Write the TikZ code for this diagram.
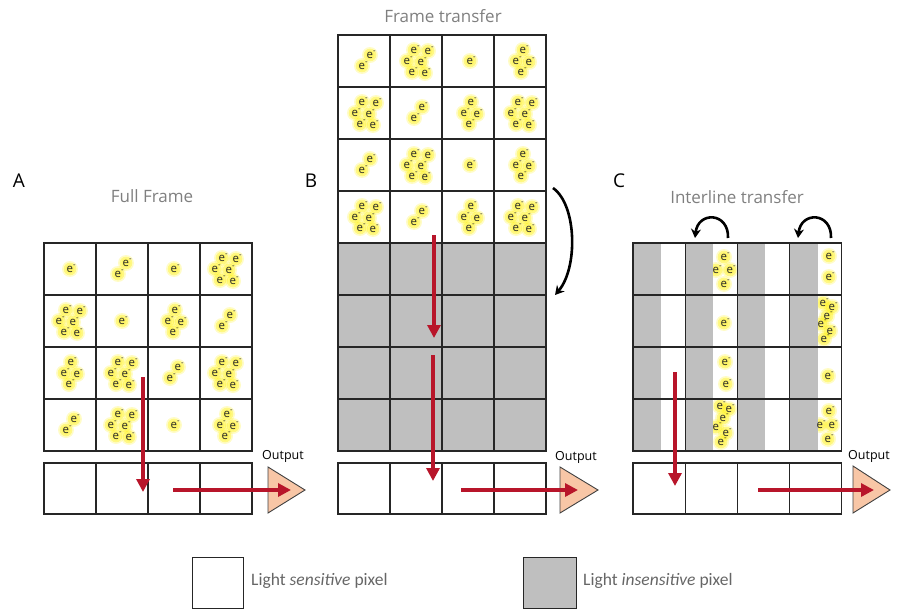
\documentclass[tikz,border=0pt]{standalone}
\usepackage{fontspec}
\setmainfont{Open Sans}
\newfontfamily\legfont{Carlito}
\usetikzlibrary{arrows.meta,positioning}
\definecolor{ccdred}{HTML}{B8152A}
\definecolor{maskgray}{HTML}{BFBFBF}
\definecolor{outfill}{HTML}{F8C6A6}
\definecolor{glowy}{HTML}{FFF000}
\definecolor{titlegray}{HTML}{7F7F7F}
\pgfdeclarelayer{glowlayer}
\pgfsetlayers{glowlayer,main}
\tikzset{
	pix/.style={draw=black!85,line width=1.1pt},
	mask/.style={pix,fill=maskgray},
	stripe/.style={fill=maskgray},
	outtri/.style={draw=black!75,line width=0.9pt,fill=outfill},
	redarr/.style={draw=ccdred,line width=4pt,-{Triangle[length=13pt,width=13pt]}},
	swing/.style={draw=black,line width=2.6pt,-{Stealth[length=9pt,width=10pt]}},
	panel/.style={font=\fontsize{19}{19}\selectfont},
	title/.style={text=titlegray,font=\fontsize{17}{17}\selectfont},
	outlbl/.style={font=\fontsize{12.5}{12.5}\selectfont},
	legend/.style={text=black!60,anchor=west,inner sep=0pt,font=\legfont\fontsize{17.5}{17.5}\selectfont},
	etext/.style={inner sep=0pt,text=black!85,font=\fontsize{11.5}{11.5}\selectfont},
	glow/.style={fill=glowy,opacity=.22},
	glowmid/.style={fill=glowy,opacity=.35},
	glowcore/.style={fill=glowy!70,opacity=.5}
}
\newcommand{\elec}[2]{%
	\begin{pgfonlayer}{glowlayer}
		\fill[glow] (#1,#2) circle (8);
		\fill[glowmid] (#1,#2) circle (6.3);
		\fill[glowcore] (#1,#2) circle (4.5);
	\end{pgfonlayer}
	\node[etext] at (#1+1.5,#2) {e\textsuperscript{-}};}
\newcommand{\eone}[2]{\elec{#1}{#2}}
\newcommand{\etwo}[2]{\elec{#1-4}{#2+5}\elec{#1+4}{#2-6}}
\newcommand{\efour}[2]{\elec{#1+1}{#2-11}\elec{#1-6}{#2}\elec{#1+7}{#2+1}\elec{#1-1}{#2+11}}
\newcommand{\esix}[2]{\elec{#1-4}{#2-11}\elec{#1+10}{#2-10}\elec{#1-11}{#2}\elec{#1+3}{#2+1}\elec{#1-6}{#2+11}\elec{#1+7}{#2+12}}

\begin{document}
\begin{tikzpicture}[x=1pt,y=-1pt]
	\useasboundingbox (0,0) rectangle (900,610);

	% A: full frame
	\node[panel] (labA) at (19,181) {A};
	\node[title] (titA) at (152,196) {Full Frame};
	\foreach \c in {0,...,3}
		\foreach \r in {0,...,3}
			\draw[pix] (44+52*\c,243+52*\r) rectangle ++(52,52);
	\foreach \n [count=\k from 0] in {one,two,one,six,six,one,four,two,four,six,two,six,two,six,one,four}{
		\pgfmathtruncatemacro\c{mod(\k,4)}
		\pgfmathtruncatemacro\r{div(\k,4)}
		\csname e\n\endcsname{70+52*\c}{269+52*\r}
	}
	\foreach \c in {0,...,3}
		\draw[pix] (44+52*\c,463) rectangle ++(52,51);
	\draw[outtri] (268,467) -- (305,490) -- (268,513) -- cycle;
	\node[outlbl] (outA) at (283,456) {Output};
	\coordinate (vA0) at (143,377);
	\coordinate (vA1) at (143,492);
	\coordinate (hA0) at (173,490);
	\coordinate (hA1) at (291,490);
	\draw[redarr] (vA0) -- (vA1);
	\draw[redarr] (hA0) -- (hA1);

	% B: frame transfer
	\node[panel] (labB) at (311,181) {B};
	\node[title] (titB) at (443,16) {Frame transfer};
	\foreach \c in {0,...,3}{
		\foreach \r in {0,...,3}
			\draw[pix] (338+52*\c,35+52*\r) rectangle ++(52,52);
		\foreach \r in {4,...,7}
			\draw[mask] (338+52*\c,35+52*\r) rectangle ++(52,52);
	}
	\foreach \n [count=\k from 0] in {two,six,one,four,six,two,four,six,two,six,one,four,six,two,four,six}{
		\pgfmathtruncatemacro\c{mod(\k,4)}
		\pgfmathtruncatemacro\r{div(\k,4)}
		\csname e\n\endcsname{366+52*\c}{61+52*\r}
	}
	\foreach \c in {0,...,3}
		\draw[pix] (338+52*\c,463) rectangle ++(52,51);
	\draw[outtri] (560,467) -- (598,490) -- (560,513) -- cycle;
	\node[outlbl] (outB) at (576,457) {Output};
	\coordinate (swing0) at (553,188);
	\coordinate (swing1) at (555,295);
	\draw[swing] (swing0) .. controls (577,205) and (578,268) .. (swing1);
	\coordinate (vB0) at (434,235);
	\coordinate (vB1) at (434,338);
	\coordinate (vB2) at (433,355);
	\coordinate (vB3) at (433,481);
	\coordinate (hB0) at (461,490);
	\coordinate (hB1) at (578,490);
	\draw[redarr] (vB0) -- (vB1);
	\draw[redarr] (vB2) -- (vB3);
	\draw[redarr] (hB0) -- (hB1);

	% C: interline transfer
	\node[panel] (labC) at (619,181) {C};
	\node[title] (titC) at (737,197) {Interline transfer};
	\foreach \c in {0,...,3}
		\foreach \r in {0,...,3}{
			\fill[stripe] (633+52.2*\c,243+52*\r) rectangle ++(28,52);
			\draw[pix] (633+52.2*\c,243+52*\r) rectangle ++(52.2,52);
		}
	\foreach \x/\y in {724/257,716/270,730/270,724/284,829/256,829/277,724/323,
		823/303,832/307,827/316,821/324,830/331,824/339,725/362,726/384,828/376,
		720/406,729/409,723/418,716/427,726/433,721/442,829/411,820/425,832/425,828/439}
		\elec{\x}{\y}
	\foreach \c in {0,...,3}
		\draw[pix] (633+52.2*\c,463) rectangle ++(52.2,51);
	\draw[outtri] (853,466) -- (890,490) -- (853,513) -- cycle;
	\node[outlbl] (outC) at (869,456) {Output};
	\coordinate (swA0) at (728,238);
	\coordinate (swA1) at (695,238);
	\coordinate (swB0) at (831,238);
	\coordinate (swB1) at (798,238);
	\draw[swing] (swA0) .. controls (729,212) and (698,211) .. (swA1);
	\draw[swing] (swB0) .. controls (832,212) and (801,211) .. (swB1);
	\coordinate (vC0) at (675,372);
	\coordinate (vC1) at (675,486);
	\coordinate (hC0) at (758,490);
	\coordinate (hC1) at (874,490);
	\draw[redarr] (vC0) -- (vC1);
	\draw[redarr] (hC0) -- (hC1);

	% legend
	\draw[pix,line width=0.9pt] (192,557) rectangle (243,608.5);
	\node[legend] (legS) at (251,581) {Light \textit{sensitive} pixel};
	\draw[mask,line width=0.9pt] (523,557) rectangle (576,608.5);
	\node[legend] (legI) at (583,581) {Light \textit{insensitive} pixel};
\end{tikzpicture}
\end{document}
